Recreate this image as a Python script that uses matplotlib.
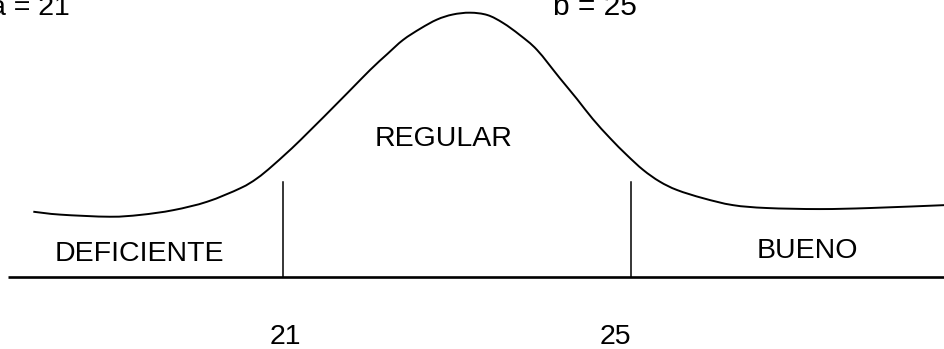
import numpy as np
import matplotlib
matplotlib.use("Agg")
import matplotlib.pyplot as plt
from matplotlib.path import Path
from matplotlib.patches import PathPatch

plt.rcParams['font.family'] = ['Liberation Sans', 'DejaVu Sans']

# puntaje (eje x) y altura relativa de la curva (pico = 1)
score = [18.13, 18.44, 19.01, 19.36, 19.74, 20.13, 20.51, 20.70, 20.89, 21.20,
         21.74, 22.00, 22.20, 22.38, 22.58, 22.77, 22.95, 23.15, 23.35, 23.53,
         23.72, 23.92, 24.18, 24.38, 24.56, 24.76, 24.95, 25.14, 25.33, 25.53,
         25.83, 26.17, 26.56, 27.17, 27.75, 28.61]
height = [0.247, 0.236, 0.228, 0.235, 0.253, 0.285, 0.336, 0.373, 0.424, 0.518,
          0.696, 0.783, 0.844, 0.897, 0.940, 0.974, 0.993, 1.000, 0.991, 0.961,
          0.916, 0.859, 0.753, 0.673, 0.598, 0.525, 0.462, 0.405, 0.361, 0.329,
          0.298, 0.272, 0.261, 0.257, 0.261, 0.272]

a, b = 21, 25
cut_height = 0.361
categories = ['DEFICIENTE', 'REGULAR', 'BUENO']
cat_x = [19.345, 22.851, 27.029]
cat_y = [0.062, 0.496, 0.072]


def smooth_path(xs, ys):
    # catmull-rom -> bezier, just to draw the curve without kinks
    p = np.column_stack([xs, ys])
    p = np.vstack([p[0], p, p[-1]])
    verts = [p[1]]
    codes = [Path.MOVETO]
    for i in range(1, len(p) - 2):
        c1 = p[i] + (p[i + 1] - p[i - 1]) / 6
        c2 = p[i + 1] - (p[i + 2] - p[i]) / 6
        verts += [c1, c2, p[i + 1]]
        codes += [Path.CURVE4] * 3
    return Path(verts, codes)


fig = plt.figure(figsize=(9.45, 3.49), dpi=100)
ax = fig.add_axes([0, 0, 1, 1])
ax.set_xlim(17.747, 28.609)
ax.set_ylim(-0.2724, 1.048)
ax.axis('off')

# curva
ax.add_patch(PathPatch(smooth_path(score, height), facecolor='none',
                       edgecolor='black', lw=1.4))

# linea base y cortes
ax.plot([17.84, 28.61], [0, 0], color='black', lw=1.9, solid_capstyle='butt')
for v in (a, b):
    ax.plot([v, v], [0, cut_height], color='black', lw=1.1)

fs = 20.5
for name, x, y in zip(categories, cat_x, cat_y):
    ax.text(x, y, name, ha='center', va='baseline', fontsize=fs)

ax.text(21.03, -0.255, str(a), ha='center', va='baseline', fontsize=fs)
ax.text(24.816, -0.252, str(b), ha='center', va='baseline', fontsize=fs)

ax.text(18.552, 0.991, f'a = {a}', ha='right', va='baseline', fontsize=fs)
ax.text(24.103, 0.991, f'b = {b}', ha='left', va='baseline', fontsize=21.5)

fig.savefig('out.png', dpi=100)
